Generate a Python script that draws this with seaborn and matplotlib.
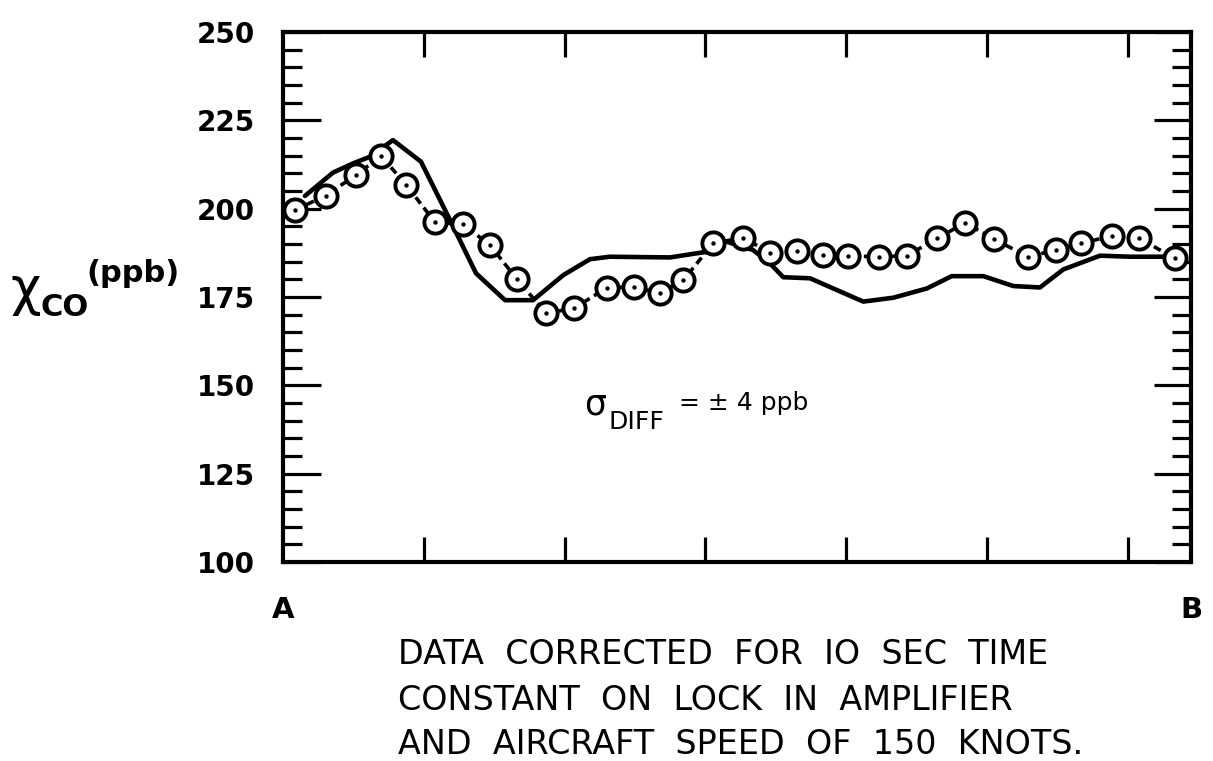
import matplotlib
matplotlib.use("Agg")
import matplotlib.pyplot as plt
import seaborn as sns
import numpy as np

# ---- data ----
circle_x = [0.085, 0.303, 0.518, 0.696, 0.874, 1.080, 1.276, 1.470, 1.660, 1.868,
            2.067, 2.299, 2.493, 2.678, 2.843, 3.056, 3.269, 3.459, 3.648, 3.837,
            4.015, 4.233, 4.430, 4.647, 4.844, 5.052, 5.293, 5.490, 5.668, 5.890,
            6.082, 6.335]
circle_y = [199.6, 203.7, 209.5, 214.9, 206.8, 196.1, 195.6, 189.7, 180.1, 170.4,
            171.8, 177.6, 177.9, 176.0, 179.8, 190.2, 191.8, 187.5, 188.0, 186.9,
            186.6, 186.4, 186.7, 191.6, 196.0, 191.3, 186.4, 188.3, 190.2, 192.3,
            191.6, 185.9]

solid_x = [0.156, 0.355, 0.497, 0.618, 0.781, 0.980, 1.186, 1.371, 1.577, 1.776,
           1.991, 2.180, 2.322, 2.749, 3.009, 3.139, 3.338, 3.459, 3.553, 3.743,
           4.121, 4.335, 4.572, 4.749, 4.974, 5.187, 5.376, 5.542, 5.803, 6.016,
           6.312]
solid_y = [203.6, 210.2, 212.8, 214.7, 219.4, 213.3, 196.8, 181.7, 174.1, 174.1,
           181.2, 185.7, 186.4, 186.2, 187.8, 190.8, 188.3, 184.5, 180.6, 180.3,
           173.7, 174.8, 177.4, 180.9, 180.9, 178.1, 177.7, 182.8, 186.7, 186.4,
           186.4]

y_ticks = [100, 125, 150, 175, 200, 225, 250]
y_tick_labels = ["100", "125", "150", "175", "200", "225", "250"]
x_major = [1, 2, 3, 4, 5, 6]
x_end_labels = ["A", "B"]
note_lines = ["DATA  CORRECTED  FOR  IO  SEC  TIME",
              "CONSTANT  ON  LOCK  IN  AMPLIFIER",
              "AND  AIRCRAFT  SPEED  OF  150  KNOTS."]

sns.set_style("ticks")
plt.rcParams["font.family"] = ["DejaVu Sans"]
plt.rcParams["mathtext.fontset"] = "dejavusans"
for k in ["text.color", "axes.labelcolor", "xtick.color", "ytick.color",
          "axes.edgecolor"]:
    plt.rcParams[k] = "black"

W, H = 1213, 761
fig = plt.figure(figsize=(W / 100, H / 100), dpi=100)
L, R, T, B = 283, 1191, 32, 562
ax = fig.add_axes([L / W, 1 - B / H, (R - L) / W, (B - T) / H])

XMAX = (R - L) / 140.8
ax.set_xlim(0, XMAX)
ax.set_ylim(100, 250)

# solid curve
sns.lineplot(x=solid_x, y=solid_y, sort=False, color="black", lw=3.3,
             ax=ax, zorder=2)
# dashed curve with circles
sns.lineplot(x=circle_x, y=circle_y, sort=False, color="black", lw=2.6,
             linestyle=(0, (2.2, 1.4)), marker="o", markersize=16,
             markerfacecolor="white", markeredgecolor="black",
             markeredgewidth=2.8, ax=ax, zorder=3)
sns.scatterplot(x=circle_x, y=circle_y, color="black", s=10, linewidth=0,
                ax=ax, zorder=4)

for s in ax.spines.values():
    s.set_linewidth(3.0)
    s.set_color("black")
    s.set_visible(True)

ax.set_yticks(y_ticks)
ax.set_yticklabels(y_tick_labels, fontsize=20, fontweight="bold")
ax.set_yticks(np.arange(100, 251, 5), minor=True)
ax.tick_params(axis="y", which="major", direction="in", length=27, width=2.3,
               left=True, right=True, pad=20)
ax.tick_params(axis="y", which="minor", direction="in", length=14, width=2.3,
               left=True, right=True)
ax.set_xticks(x_major)
ax.set_xticklabels([])
ax.tick_params(axis="x", which="major", direction="in", length=18, width=2.3,
               bottom=True, top=True)
ax.tick_params(axis="x", which="minor", bottom=False, top=False)
ax.set_xlabel("")
ax.set_ylabel("")

# A / B end labels
ax.text(0, 86.4, x_end_labels[0], ha="center", va="center", fontsize=21,
        fontweight="bold")
ax.text(XMAX, 86.4, x_end_labels[1], ha="center", va="center", fontsize=21,
        fontweight="bold")

# y-axis label chi_CO (ppb)
fig.text(10 / W, 1 - 290 / H, "χ", fontsize=38, ha="left", va="center")
fig.text(40 / W, 1 - 308 / H, "CO", fontsize=22, fontweight="bold",
         ha="left", va="center")
fig.text(86 / W, 1 - 274 / H, "(ppb)", fontsize=22, fontweight="bold",
         ha="left", va="center")

# sigma annotation
ax.text(2.22, 144.5, "σ", fontsize=25, ha="center", va="center")
ax.text(2.31, 139.5, "DIFF", fontsize=18, ha="left", va="center")
ax.text(2.81, 145.0, "= ± 4 ppb", fontsize=18, ha="left", va="center")

# footnote lines
for i, line in enumerate(note_lines):
    fig.text(398 / W, 1 - (655 + 45 * i) / H, line, fontsize=24,
             ha="left", va="center")

fig.savefig("out.png", dpi=100)
